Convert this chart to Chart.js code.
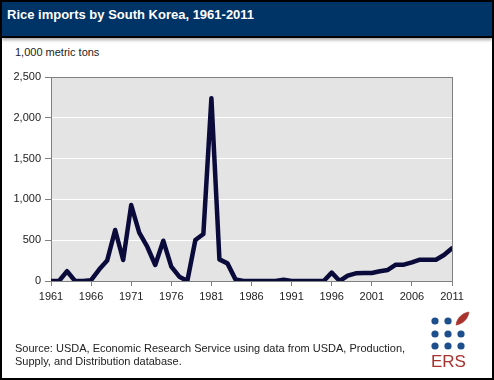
<!DOCTYPE html>
<html>
<head>
<meta charset="utf-8">
<script src="https://cdn.jsdelivr.net/npm/chart.js@4.4.0/dist/chart.umd.min.js"></script>
<style>
  html, body { margin: 0; padding: 0; background: #fff; }
  #frame { position: relative; width: 494px; height: 380px; box-sizing: border-box; border: 2px solid #000; overflow: hidden; font-family: "Liberation Sans", Arial, sans-serif; }
  #titlebar { position: absolute; left: 0; top: 0; width: 100%; height: 34px; background: #003366; border-bottom: 2px solid #000; box-shadow: 0 2px 3px rgba(0,0,0,0.35); }
  #title { position: absolute; left: 5px; top: 5px; color: #fff; font-weight: bold; font-size: 13px; }
  #unit { position: absolute; left: 13px; top: 44px; font-size: 11px; color: #222; }
  #source { position: absolute; left: 13px; top: 340px; font-size: 11px; line-height: 13px; color: #222; }
  #ers { position: absolute; left: 429px; top: 350px; font-size: 17px; color: #a8322d; font-family: "Liberation Sans", Arial, sans-serif; }
  #logo { position: absolute; left: 424px; top: 308px; }
  canvas { position: absolute; left: -2px; top: -2px; }
</style>
</head>
<body>
<div id="frame">
  <div id="titlebar"><div id="title">Rice imports by South Korea, 1961-2011</div></div>
  <div id="unit">1,000 metric tons</div>
  <canvas id="c" width="494" height="380"></canvas>
  <div id="source">Source: USDA, Economic Research Service using data from USDA, Production,<br>Supply, and Distribution database.</div>
  <svg id="logo" width="50" height="44" viewBox="0 0 50 44">
    <g fill="#1c4f8c">
      <circle cx="9" cy="11" r="3.6"/><circle cx="22" cy="11" r="3.6"/>
      <circle cx="9" cy="24" r="3.6"/><circle cx="22" cy="24" r="3.6"/><circle cx="35" cy="24" r="3.6"/>
      <circle cx="9" cy="36" r="3.6"/><circle cx="22" cy="36" r="3.6"/><circle cx="35" cy="36" r="3.6"/>
    </g>
    <path d="M30 15 C31 7 37 3 43 2 C42 9 37 14 30 15 Z M30 15 L41 4" fill="#a8322d" stroke="#a8322d" stroke-width="0.6"/>
  </svg>
  <div id="ers">ERS</div>
</div>
<script>
const years = [1961,1962,1963,1964,1965,1966,1967,1968,1969,1970,1971,1972,1973,1974,1975,1976,1977,1978,1979,1980,1981,1982,1983,1984,1985,1986,1987,1988,1989,1990,1991,1992,1993,1994,1995,1996,1997,1998,1999,2000,2001,2002,2003,2004,2005,2006,2007,2008,2009,2010,2011];
const imports = [0,0,120,0,0,10,140,250,625,257,931,592,420,196,494,176,53,0,502,576,2240,265,216,20,0,0,0,0,0,15,0,0,0,0,0,102,0,65,94,98,98,119,135,200,200,229,261,261,261,319,400];
const yTicks = [0,500,1000,1500,2000,2500];
const xTicks = [1961,1966,1971,1976,1981,1986,1991,1996,2001,2006,2011];

const points = years.map((y, i) => ({x: y, y: imports[i]}));

const plotFrame = {
  id: 'plotFrame',
  beforeDraw(chart) {
    const a = chart.chartArea, ctx = chart.ctx;
    ctx.save();
    ctx.fillStyle = '#e4e4e4';
    ctx.fillRect(a.left, a.top, a.right - a.left, a.bottom - a.top);
    ctx.restore();
  },
  beforeDatasetsDraw(chart) {
    const a = chart.chartArea, ctx = chart.ctx;
    ctx.save();
    ctx.strokeStyle = '#808080';
    ctx.lineWidth = 1;
    ctx.strokeRect(Math.round(a.left) + 0.5, Math.round(a.top) + 0.5, Math.round(a.right - a.left), Math.round(a.bottom - a.top));
    ctx.restore();
  }
};

const font = {family: '"Liberation Sans", Arial, sans-serif', size: 11};

new Chart(document.getElementById('c'), {
  type: 'line',
  data: {
    datasets: [{
      data: points,
      borderColor: '#0b0b3b',
      borderWidth: 4.5,
      pointRadius: 0,
      tension: 0,
      borderJoinStyle: 'round',
      borderCapStyle: 'round'
    }]
  },
  options: {
    responsive: false,
    devicePixelRatio: 1,
    animation: false,
    layout: {padding: {left: 11, right: 42, top: 77, bottom: 77}},
    plugins: {legend: {display: false}, tooltip: {enabled: false}},
    scales: {
      x: {
        type: 'linear',
        min: 1961, max: 2011,
        afterFit(s) { s.height = 22; },
        afterBuildTicks(s) { s.ticks = xTicks.map(v => ({value: v})); },
        ticks: {font, color: '#222', padding: 4, maxRotation: 0, autoSkip: false, callback: v => String(v)},
        grid: {drawOnChartArea: false, tickLength: 5, tickColor: '#808080', color: '#808080'},
        border: {display: false}
      },
      y: {
        min: 0, max: 2500,
        afterFit(s) { s.width = 40; },
        afterBuildTicks(s) { s.ticks = yTicks.map(v => ({value: v})); },
        ticks: {font, color: '#222', padding: 4, callback: v => v.toLocaleString('en-US')},
        grid: {color: '#ffffff', tickColor: '#808080', tickLength: 6, lineWidth: 1},
        border: {display: false}
      }
    }
  },
  plugins: [plotFrame]
});
</script>
</body>
</html>
